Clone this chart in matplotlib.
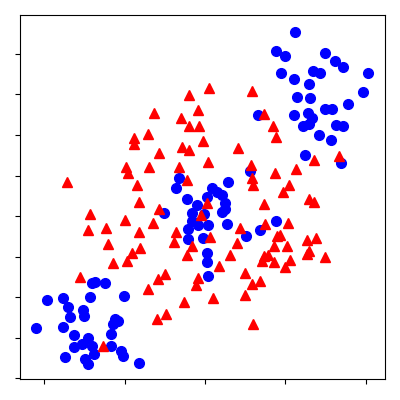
import matplotlib
matplotlib.use("Agg")
import numpy as np
import matplotlib.pyplot as plt

# class A (blue circles)
xa = [2.24, 1.77, 1.99, 2.99, 3.24, 3.44, 4.06, 1.89, 2.22, 2.69, 2.86, 2.59, 2.29, 2.62,
      3.94, 3.56, 2.99, 3.16, 2.22, 2.57, 2.67, 2.44, 2.59, 3.26, 3.44, 2.84, 3.14, 1.32,
      2.49, 3.39, 1.77, 1.37, 1.12, -0.65, -0.72, 0.57, 0.17, 0.30, 0.42, -0.45, 0.05,
      -0.20, 0.50, 0.50, -1.02, -0.32, -0.02, 0.42, -0.32, -0.17, 0.07, 0.55, -0.42, -0.42,
      -0.05, 1.02, 0.05, 0.05, 0.07,
      -2.81, -2.74, -2.49, -3.94, -3.54, -3.41, -2.86, -2.02, -3.04, -3.36, -3.01, -4.21,
      -3.54, -2.24, -2.17, -2.29, -2.34, -3.26, -2.91, -3.06, -3.26, -2.81, -2.76, -2.34,
      -2.09, -2.04, -3.49, -2.99, -2.91, -1.64]
ya = [4.54, 4.07, 3.95, 4.02, 3.83, 3.68, 3.53, 3.53, 3.38, 3.58, 3.53, 3.26, 2.94, 2.91,
      3.06, 2.77, 2.64, 2.64, 2.49, 2.54, 2.42, 2.22, 2.27, 2.25, 2.22, 2.00, 1.88, 2.49,
      1.51, 1.31, -0.12, -0.35, 1.11, 0.94, 0.69, 0.84, 0.69, 0.59, 0.52, 0.42, 0.47,
      0.27, 0.32, 0.17, 0.07, 0.07, 0.05, 0.10, -0.12, -0.22, -0.22, -0.20, -0.32, -0.57,
      -0.54, -0.49, -0.91, -1.14, -1.48,
      -1.65, -1.63, -1.65, -2.07, -2.02, -2.25, -2.00, -1.98, -2.32, -2.49, -2.47, -2.77,
      -2.74, -2.54, -2.59, -2.67, -2.91, -2.94, -3.01, -3.16, -3.23, -3.21, -3.41, -3.21,
      -3.33, -3.46, -3.48, -3.53, -3.65, -3.63]

# class B (red triangles)
xb = [0.10, -0.40, 1.17, -1.27, -0.17, -0.60, 1.47, -0.40, -0.15, -1.42, -1.77, -1.77,
      -0.05, 1.69, 1.77, -0.57, -0.40, -1.15, 0.82, -1.39, -0.65, 0.07, 1.15, 1.17, 1.20,
      -0.45, 2.71, 3.34, 1.74, 2.27, 2.09, 1.94, 1.47, 2.59, 2.71, -1.97, -1.92, -3.44,
      -1.69, -1.64, -2.86, -1.99, -2.91, -2.47, -2.42, -1.64, -1.62, -1.82, -2.29, -1.94,
      0.05, -0.10, -1.15, -1.30, -0.72, -0.77, 0.12, 0.87, 0.80, -0.32, -0.45, 0.62, 0.35,
      1.49, 2.07, 1.79, 1.87, 1.72, 2.04, 2.54, 2.76, 1.47, 1.57, 1.42, 1.72, 1.99, 2.12,
      2.54, 2.59, 2.99, 1.00, -1.00, -1.17, -1.42, -0.17, -0.22, -0.52, 0.20, 1.17, 1.37,
      1.00, -1.20, -0.97, 1.20, -3.11, -2.54]
yb = [3.16, 2.99, 3.09, 2.54, 2.62, 2.42, 2.52, 2.22, 2.22, 2.02, 1.93, 1.78, 1.85, 2.22,
      1.95, 1.70, 1.63, 1.56, 1.68, 1.21, 1.21, 1.33, 1.26, 0.94, 0.77, 0.89, 1.38, 1.48,
      1.06, 1.16, 0.77, 0.59, 0.30, 0.42, 0.35, 1.21, 1.06, 0.84, 0.77, 0.35, 0.05, -0.10,
      -0.35, -0.30, -0.69, -0.40, -0.79, -0.91, -1.16, -1.11, 0.32, 0.02, 0.17, -0.17,
      -0.40, -0.64, -0.52, -0.30, -0.67, -0.74, -0.96, -0.96, -1.23, -0.20, -0.17, -0.49,
      -0.47, -0.74, -0.74, -0.59, -0.54, -0.99, -0.96, -1.11, -1.14, -1.26, -1.09, -0.94,
      -0.86, -1.01, -1.41, -1.43, -1.56, -1.80, -1.53, -1.70, -2.12, -2.02, -1.68, -1.60,
      -1.95, -2.54, -2.42, -2.67, -1.51, -3.21]

fig = plt.figure(figsize=(4, 4), dpi=100)
ax = fig.add_axes([0.05, 0.0525, 0.9125, 0.91])
ax.plot(xa, ya, 'bo', ms=7)
ax.plot(xb, yb, 'r^', ms=7)
ax.set_xlim(-4.61, 4.48)
ax.set_ylim(-4.02, 4.96)
ax.set_xticks([-4, -2, 0, 2, 4])
ax.set_yticks(np.arange(-4, 5))
ax.set_xticklabels([])
ax.set_yticklabels([])
fig.savefig("out.png")
